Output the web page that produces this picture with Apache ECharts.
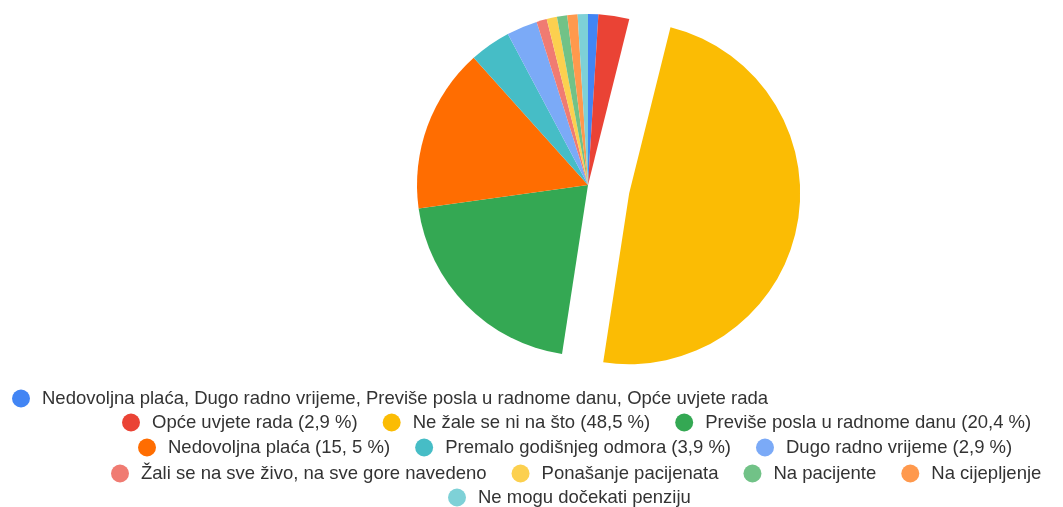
<!DOCTYPE html>
<html>
<head>
<meta charset="utf-8">
<script src="https://cdn.jsdelivr.net/npm/echarts@6/dist/echarts.min.js"></script>
<style>
  html, body { margin: 0; padding: 0; background: #fff; }
  #chart { width: 1063px; height: 507px; }
</style>
</head>
<body>
<div id="chart"></div>
<script>
// kategorije (redoslijed kao u legendi, u smjeru kazaljke od vrha)
var names = [
    "Nedovoljna plaća, Dugo radno vrijeme, Previše posla u radnome danu, Opće uvjete rada",
    "Opće uvjete rada (2,9 %)",
    "Ne žale se ni na što (48,5 %)",
    "Previše posla u radnome danu (20,4 %)",
    "Nedovoljna plaća (15, 5 %)",
    "Premalo godišnjeg odmora (3,9 %)",
    "Dugo radno vrijeme (2,9 %)",
    "Žali se na sve živo, na sve gore navedeno",
    "Ponašanje pacijenata",
    "Na pacijente",
    "Na cijepljenje",
    "Ne mogu dočekati penziju"
];
// broj odgovora
var values = [1, 3, 50, 21, 16, 4, 3, 1, 1, 1, 1, 1];
var colors = ["#4285f4", "#ea4335", "#fbbc04", "#34a853", "#ff6d01", "#46bdc6",
              "#7baaf7", "#f07b72", "#fcd04f", "#71c287", "#ff994d", "#7ed1d7"];
// redovi legende (indeksi u names)
var legendRows = [[0], [1, 2, 3], [4, 5, 6], [7, 8, 9, 10], [11]];
var explodedIndex = 2;

var chart = echarts.init(document.getElementById("chart"));

var rowLeft = [12, 122, 138, 111, 448];
var rowTop = [389, 413, 438, 464, 488];

var legends = legendRows.map(function (row, i) {
    return {
        left: rowLeft[i],
        top: rowTop[i],
        padding: 0,
        orient: "horizontal",
        selectedMode: false,
        icon: "circle",
        itemWidth: 18,
        itemHeight: 18,
        itemGap: 25,
        textStyle: {
            fontFamily: "Arial, 'Liberation Sans', sans-serif",
            fontSize: 18.5,
            color: "#333",
            padding: [0, 0, 0, 7]
        },
        data: row.map(function (k) { return names[k]; })
    };
});

var pieData = names.map(function (n, i) {
    return {
        name: n,
        value: values[i],
        selected: i === explodedIndex,
        itemStyle: { color: colors[i] }
    };
});

var option = {
    animation: false,
    backgroundColor: "#fff",
    legend: legends,
    series: [
        {
            type: "pie",
            center: [588, 185],
            radius: 171,
            startAngle: 90,
            clockwise: true,
            selectedMode: "single",
            selectedOffset: 42,
            label: { show: false },
            labelLine: { show: false },
            emphasis: { scale: false },
            itemStyle: { borderWidth: 0 },
            data: pieData
        }
    ]
};
chart.setOption(option);
</script>
</body>
</html>
